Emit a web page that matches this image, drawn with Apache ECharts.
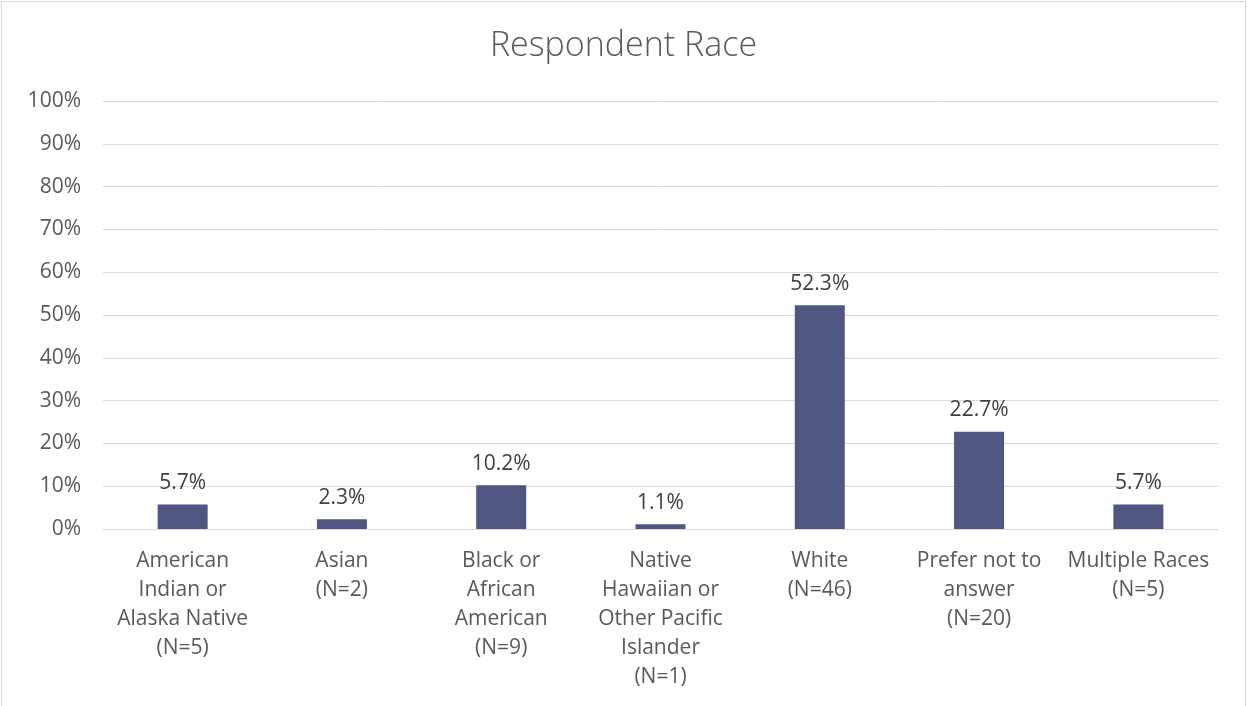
<!DOCTYPE html>
<html>
<head>
<meta charset="utf-8">
<script src="https://cdn.jsdelivr.net/npm/echarts@6/dist/echarts.min.js"></script>
<style>
  html, body { margin: 0; padding: 0; background: #ffffff; }
  #chart {
    position: absolute; left: 1px; top: 1px;
    width: 1245px; height: 706px;
    border: 1px solid #d9d9d9; box-sizing: border-box;
    background: #ffffff;
  }
</style>
</head>
<body>
<div id="chart"></div>
<script>
// Respondent race breakdown (percent of respondents)
const categories = [
  'American\nIndian or\nAlaska Native\n(N=5)',
  'Asian\n(N=2)',
  'Black or\nAfrican\nAmerican\n(N=9)',
  'Native\nHawaiian or\nOther Pacific\nIslander\n(N=1)',
  'White\n(N=46)',
  'Prefer not to\nanswer\n(N=20)',
  'Multiple Races\n(N=5)'
];
const percentValues = [5.7, 2.3, 10.2, 1.1, 52.3, 22.7, 5.7];
const yTicks = [0, 10, 20, 30, 40, 50, 60, 70, 80, 90, 100];

const FONT = '"Open Sans", Lato, sans-serif';
const chart = echarts.init(document.getElementById('chart'));

chart.setOption({
  animation: false,
  title: {
    text: 'Respondent Race',
    left: 'center',
    top: 22,
    textStyle: { fontFamily: FONT, fontSize: 34, fontWeight: 300, color: '#595959' }
  },
  grid: { left: 101, right: 27, top: 99, bottom: 177, containLabel: false },
  xAxis: {
    type: 'category',
    data: categories,
    axisLine: { show: true, lineStyle: { color: '#d9d9d9', width: 1 } },
    axisTick: { show: false },
    axisLabel: {
      interval: 0,
      margin: 18,
      fontFamily: FONT, fontSize: 21, color: '#595959',
      lineHeight: 29, align: 'center'
    }
  },
  yAxis: {
    type: 'value',
    min: yTicks[0],
    max: yTicks[yTicks.length - 1],
    interval: 10,
    axisLine: { show: false },
    axisTick: { show: false },
    splitLine: { lineStyle: { color: '#d9d9d9', width: 1 } },
    axisLabel: {
      margin: 22,
      fontFamily: FONT, fontSize: 21, color: '#595959',
      formatter: v => v + '%'
    }
  },
  series: [{
    type: 'bar',
    data: percentValues,
    barWidth: 50,
    itemStyle: { color: '#4f5682' },
    label: {
      show: true,
      position: 'top',
      distance: 11,
      fontFamily: FONT, fontSize: 21, color: '#404040',
      formatter: p => p.value.toFixed(1) + '%'
    }
  }]
});
</script>
</body>
</html>
